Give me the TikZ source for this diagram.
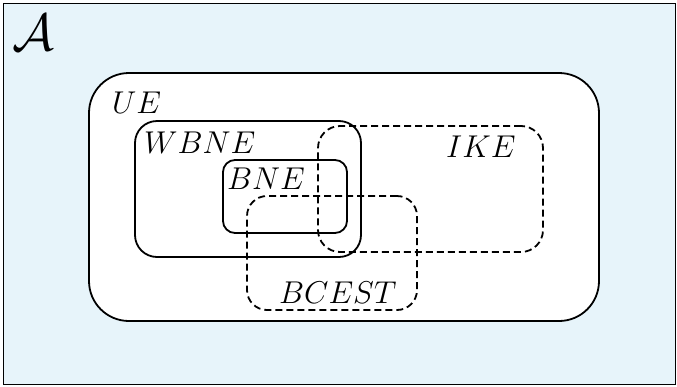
\documentclass[tikz,border=0pt]{standalone}
\usepackage{graphicx}
\definecolor{bgblue}{RGB}{231,244,250}
\newcommand{\biglbl}[1]{\scalebox{1.52}{\huge$#1$}}
\begin{document}
\begin{tikzpicture}[x=1pt,y=-1pt,
  setbox/.style={draw=black,line width=1.8pt,rectangle,inner sep=0pt,outer sep=0pt},
  dashbox/.style={setbox,dash pattern=on 7pt off 4pt},
  lbl/.style={anchor=base west,inner sep=0pt}]
\useasboundingbox (0,0) rectangle (677,386);
\node[draw=black,line width=0.8pt,fill=bgblue,rectangle,inner sep=0pt,minimum width=672pt,minimum height=381pt] (frame) at (339.5,194) {};
\node[setbox,fill=white,rounded corners=40pt,minimum width=510pt,minimum height=248pt] (ue) at (344,197) {};
\node[setbox,rounded corners=22pt,minimum width=226pt,minimum height=136pt] (wbne) at (248,189) {};
\node[setbox,rounded corners=12pt,minimum width=124pt,minimum height=73pt] (bne) at (285,196.5) {};
\node[dashbox,rounded corners=22pt,minimum width=225pt,minimum height=126pt] (ike) at (430.5,189) {};
\node[dashbox,rounded corners=20pt,minimum width=170pt,minimum height=114pt] (bcest) at (332,253) {};
\node[lbl] (a) at (12,50) {\scalebox{2.1}{\Huge$\mathcal{A}$}};
\node[lbl] (tue) at (112,113) {\biglbl{UE}};
\node[lbl] (twbne) at (144,153) {\biglbl{WBNE}};
\node[lbl] (tbne) at (227,189) {\biglbl{BNE}};
\node[lbl] (tike) at (446,157) {\biglbl{IKE}};
\node[lbl] (tbcest) at (279,303) {\biglbl{BCEST}};
\end{tikzpicture}
\end{document}
